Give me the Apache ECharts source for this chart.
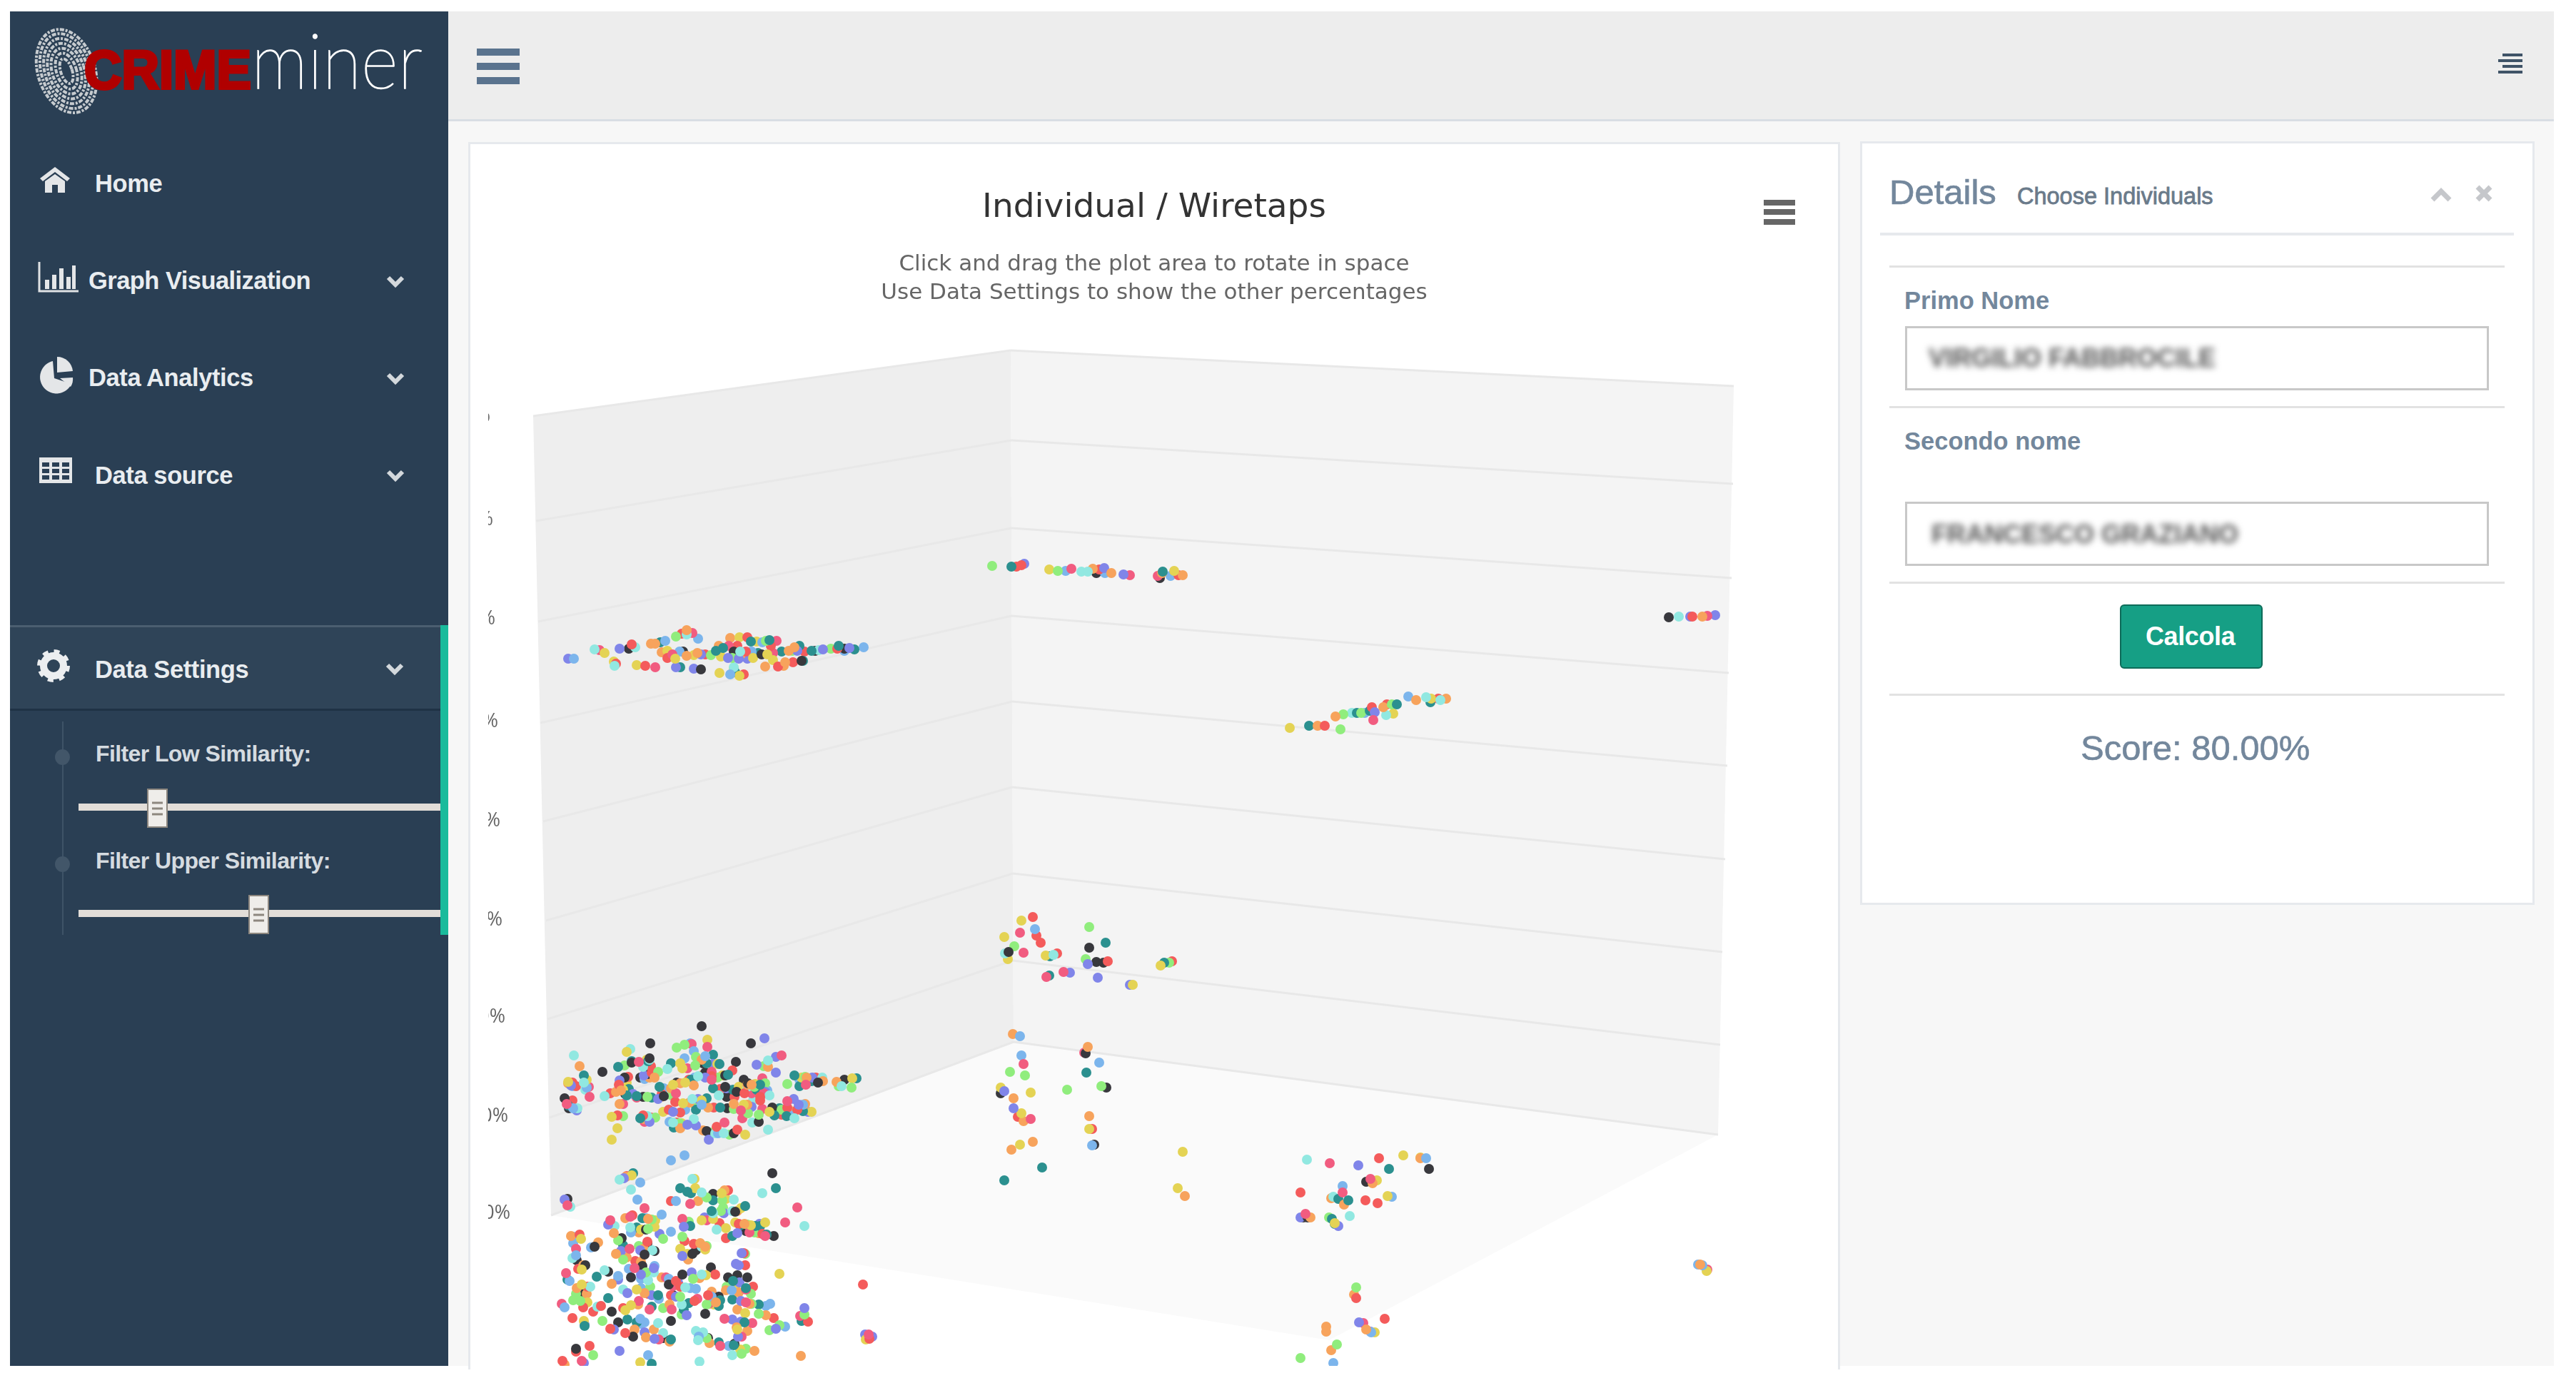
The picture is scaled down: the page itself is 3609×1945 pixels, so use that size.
<!DOCTYPE html>
<html lang="en">
<head>
<meta charset="UTF-8">
<title>CrimeMiner</title>
<script src="https://cdn.jsdelivr.net/npm/echarts@6/dist/echarts.min.js"></script>
<style>
    html, body { margin: 0; padding: 0; background: #fff; width: 3609px; height: 1945px; overflow: hidden; font-family: 'Liberation Sans', Arial, sans-serif; }
    .box { position: absolute; box-sizing: border-box; }
    .t { position: absolute; white-space: nowrap; transform: translateY(-50%); }
    .nav { color: #e9edf0; font-size: 34.5px; font-weight: 700; letter-spacing: -0.4px; }
    .sub { color: #d5dbe0; font-size: 32px; font-weight: 700; letter-spacing: -0.6px; }
    .lab { color: #73879c; font-size: 34.5px; font-weight: 700; }
    .rule { position: absolute; left: 2647px; width: 862px; height: 3px; background: #e2e2e2; }
    .input { position: absolute; left: 2669px; width: 818px; height: 90px; border: 3px solid #c8c8c8; box-sizing: border-box; background: #fff; }
    .blur { color: #555; font-size: 36px; font-weight: 700; filter: blur(5px); }
    svg { position: absolute; left: 0; top: 0; }
    #main { position: absolute; left: 684px; top: 202px; width: 1892px; height: 1712px; }
</style>
</head>
<body>
<!-- page frame -->
<div class="box" style="left:628px;top:16px;width:2950px;height:1898px;background:#f7f7f7"></div>
<div class="box" style="left:628px;top:16px;width:2950px;height:154px;background:#ededed;border-bottom:3px solid #d9dee4"></div>
<div class="box" style="left:14px;top:16px;width:614px;height:1898px;background:#2a3f54"></div>
<div class="box" style="left:14px;top:876px;width:603px;height:120px;background:#2f4458;border-top:3px solid #4b5e70;border-bottom:3px solid #1f3245"></div>
<div class="box" style="left:617px;top:876px;width:11px;height:434px;background:#1abb9c"></div>
<div class="box" style="left:87px;top:1011px;width:2px;height:299px;background:#3e5367"></div>
<div class="box" style="left:77px;top:1050px;width:21px;height:22px;border-radius:50%;background:#425669"></div>
<div class="box" style="left:77px;top:1200px;width:21px;height:22px;border-radius:50%;background:#425669"></div>

<!-- panels -->
<div class="box" style="left:656px;top:199px;width:1922px;height:1720px;background:#fff;border:3px solid #e6e9ed;border-bottom:0"></div>
<div class="box" style="left:2606px;top:198px;width:945px;height:1070px;background:#fff;border:3px solid #e6e9ed"></div>

<!-- sidebar text -->
<div class="t nav" style="left:133px;top:257px">Home</div>
<div class="t nav" style="left:124px;top:393px;letter-spacing:-0.55px">Graph Visualization</div>
<div class="t nav" style="left:124px;top:529px">Data Analytics</div>
<div class="t nav" style="left:133px;top:666px">Data source</div>
<div class="t nav" style="left:133px;top:938px">Data Settings</div>
<div class="t sub" style="left:134px;top:1056px">Filter Low Similarity:</div>
<div class="t sub" style="left:134px;top:1206px">Filter Upper Similarity:</div>

<!-- sliders -->
<div class="box" style="left:110px;top:1126px;width:507px;height:10px;background:#e2ddd8"></div>
<div class="box" style="left:110px;top:1275px;width:507px;height:10px;background:#e2ddd8"></div>
<div class="box" style="left:206px;top:1105px;width:29px;height:55px;background:#efedea;border:2px solid #8d877f"></div>
<div class="box" style="left:348px;top:1254px;width:29px;height:55px;background:#efedea;border:2px solid #8d877f"></div>

<!-- icons and logo -->
<svg width="3609" height="1945">
    <g transform="rotate(-18 95 99)" fill="none" stroke="#c6cbcf" stroke-width="4" stroke-dasharray="6 2 3 2">
        <ellipse cx="93" cy="99" rx="40" ry="60"/><ellipse cx="93" cy="99" rx="35" ry="54"/>
        <ellipse cx="93" cy="99" rx="30" ry="47"/><ellipse cx="93" cy="99" rx="25" ry="40"/>
        <ellipse cx="93" cy="99" rx="20" ry="33"/><ellipse cx="93" cy="99" rx="14" ry="26"/>
        <ellipse cx="93" cy="99" rx="8" ry="18"/>
    </g>
    <text x="118" y="124" font-family="Liberation Sans" font-weight="700" font-size="76" fill="#b00000" stroke="#b00000" stroke-width="4" textLength="234" lengthAdjust="spacingAndGlyphs">CRIME</text>
    <text x="352" y="124" font-family="Lato" font-weight="100" font-size="108" fill="#fff" stroke="#fff" stroke-width="1.6" textLength="240" lengthAdjust="spacingAndGlyphs">miner</text>

    <!-- home -->
    <path d="M56 250 L77 234 L98 250 L94 254 L77 241 L60 254 Z" fill="#e4e6e8"/>
    <path d="M63 254 L77 244 L91 254 V270 H81 V259 H73 V270 H63 Z" fill="#e4e6e8"/>
    <!-- bars -->
    <path d="M55 367 V408 H110" fill="none" stroke="#dfe2e4" stroke-width="3"/>
    <path d="M63 392h6v13h-6zM73 385h6v20h-6zM83 376h6v29h-6zM93 388h6v17h-6zM101 372h5v33h-5z" fill="#e4e6e8"/>
    <!-- pie -->
    <path d="M74 506 A23 23 0 1 0 100 538 L76 530 Z" fill="#e4e6e8"/>
    <path d="M80 500 A22 22 0 0 1 102 520 L80 522 Z" fill="#e4e6e8"/>
    <path d="M84 530 L102 529 A20 20 0 0 1 99 542 Z" fill="#e4e6e8"/>
    <!-- table -->
    <path d="M55 641h46v36h-46z" fill="#e4e6e8"/>
    <path d="M59 648h10v6h-10zM73 648h10v6h-10zM87 648h10v6h-10zM59 657h10v6h-10zM73 657h10v6h-10zM87 657h10v6h-10zM59 666h10v6h-10zM73 666h10v6h-10zM87 666h10v6h-10z" fill="#2a3f54"/>
    <!-- gear -->
    <circle cx="75" cy="933" r="14" fill="none" stroke="#eceef0" stroke-width="10"/>
    <circle cx="75" cy="933" r="20" fill="none" stroke="#eceef0" stroke-width="6" stroke-dasharray="7.8 7.9"/>
    <!-- chevrons -->
    <g fill="none" stroke="#d3d8dc" stroke-width="6">
        <path d="M544 389 L554 399 L564 389"/><path d="M544 525 L554 535 L564 525"/>
        <path d="M544 661 L554 671 L564 661"/><path d="M543 932 L553 942 L563 932"/>
    </g>
    <!-- slider grips -->
    <path d="M213 1125h15M213 1133h15M213 1141h15M355 1274h15M355 1282h15M355 1290h15" stroke="#8d877f" stroke-width="3"/>
    <!-- top bar menus -->
    <path d="M668 73h60M668 93h60M668 113h60" stroke="#5a738e" stroke-width="10"/>
    <path d="M3506 77h28M3500 85h34M3506 93h28M3500 101h34" stroke="#3f5367" stroke-width="4"/>
    <!-- export button -->
    <path d="M2471 284h44M2471 297h44M2471 311h44" stroke="#666" stroke-width="8" stroke-linejoin="round"/>
    <!-- details panel controls -->
    <path d="M3408 280 L3420 268 L3432 280" fill="none" stroke="#c5c7cb" stroke-width="7"/>
    <path d="M3471 262 L3489 280 M3489 262 L3471 280" fill="none" stroke="#c5c7cb" stroke-width="7"/>
</svg>

<!-- details panel -->
<div class="t" style="left:2647px;top:269px;font-size:49px;color:#73879c;-webkit-text-stroke:0.7px #73879c">Details</div>
<div class="t" style="left:2826px;top:275px;font-size:32.5px;color:#6a7a8a;font-weight:400;-webkit-text-stroke:0.8px #6a7a8a">Choose Individuals</div>
<div class="box" style="left:2634px;top:326px;width:888px;height:4px;background:#e6e9ed"></div>
<div class="rule" style="top:372px"></div>
<div class="t lab" style="left:2668px;top:421px">Primo Nome</div>
<div class="input" style="top:457px"></div>
<div class="t blur" style="left:2702px;top:502px">VIRGILIO FABBROCILE</div>
<div class="rule" style="top:569px"></div>
<div class="t lab" style="left:2668px;top:618px">Secondo nome</div>
<div class="input" style="top:703px"></div>
<div class="t blur" style="left:2706px;top:749px">FRANCESCO GRAZIANO</div>
<div class="rule" style="top:815px"></div>
<div class="box" style="left:2970px;top:847px;width:200px;height:90px;background:#169f85;border:2px solid #0e6b59;border-radius:6px"></div>
<div class="t" style="left:3006px;top:892px;font-size:36px;font-weight:700;color:#fff;letter-spacing:-0.4px">Calcola</div>
<div class="rule" style="top:972px"></div>
<div class="t" style="left:2915px;top:1048px;font-size:49px;color:#73879c;-webkit-text-stroke:0.6px #73879c">Score: 80.00%</div>

<div id="main"></div>

<script>
    // chart box in picture units
    const xRange = [684, 2576];
    const yRange = [202, 1914];

    const titleText = 'Individual / Wiretaps';
    const subtitleLines = ['Click and drag the plot area to rotate in space', 'Use Data Settings to show the other percentages'];
    const tickLabels = ['100%', '90%', '80%', '70%', '60%', '50%', '40%', '30%', '20%'];

    // box edges as seen on the picture, one entry per tick
    const leftEdge = [[747, 583], [751, 730], [754, 871], [757, 1013], [761, 1151], [765, 1290], [767, 1428], [770, 1566], [772, 1703]];
    const backEdge = [[1416, 491], [1417, 617], [1417, 740], [1417, 863], [1418, 983], [1418, 1103], [1419, 1224], [1419, 1346], [1420, 1460]];
    const rightEdge = [[2429, 541], [2428, 678], [2426, 810], [2422, 943], [2420, 1073], [2417, 1204], [2413, 1334], [2410, 1464], [2407, 1590]];
    const floorFront = [1862, 1878];
    const labelAnchors = [[687, 583], [691, 728], [694, 867], [698, 1011], [701, 1150], [704, 1289], [708, 1425], [712, 1564], [715, 1700]];

    const red = [[1026,1500],[912,1494],[913,1503],[867,1520],[855,1532],[880,1509],[802,1517],[807,1522],[802,1542],[927,1533],[965,1513],[997,1508],[1009,1526],[946,1544],[953,1559],[937,1555],[1000,1552],[1065,1542],[1103,1552],[1117,1555],[1095,1562],[1029,1537],[1043,1532],[1065,1537],[1130,1517],[1143,1510],[865,1563],[901,1563],[912,1566],[948,1573],[1004,1579],[1033,1583],[878,1648],[940,1683],[1020,1668],[886,1703],[1008,1714],[1017,1735],[1035,1715],[1068,1729],[959,1739],[972,1743],[812,1730],[907,1740],[890,1767],[810,1778],[947,1795],[953,1803],[1002,1786],[1044,1773],[1042,1756],[1209,1800],[908,1813],[823,1803],[817,1832],[842,1830],[831,1838],[802,1847],[855,1862],[876,1868],[873,1833],[940,1815],[973,1823],[992,1815],[1055,1803],[1084,1847],[1132,1852],[1218,1876],[826,1886],[807,1894],[788,1907],[885,903],[955,888],[863,930],[904,933],[935,922],[988,917],[1033,905],[1045,913],[1080,905],[1127,913],[1047,893],[1173,909],[1090,934],[1111,928],[1042,945],[1424,794],[1431,792],[1540,798],[1651,806],[1856,1017],[1922,991],[1943,987],[2015,979],[2371,864],[1447,1285],[1452,1311],[1458,1321],[1481,1336],[1552,1347],[1642,1347],[1426,1565],[1530,1582],[1932,1623],[1822,1671],[1913,1682],[1930,1686],[1900,1819],[1940,1848]];
    const pink = [[969,1463],[991,1467],[1095,1479],[895,1488],[963,1497],[825,1523],[826,1537],[794,1547],[892,1538],[947,1532],[997,1502],[997,1513],[1068,1511],[1053,1532],[1070,1532],[1038,1556],[1068,1554],[1040,1567],[1103,1543],[1129,1520],[873,1547],[903,1572],[1015,1573],[795,1689],[967,1687],[903,1693],[855,1710],[883,1705],[956,1708],[990,1710],[1050,1727],[1072,1732],[882,1750],[807,1750],[889,1777],[793,1784],[933,1790],[943,1802],[1117,1692],[1100,1713],[787,1827],[895,1823],[910,1835],[941,1835],[977,1820],[993,1827],[1045,1807],[1045,1825],[1015,1848],[1054,1854],[1121,1844],[1217,1870],[1039,1873],[923,1877],[1009,1886],[815,1907],[840,911],[970,887],[918,935],[942,917],[1088,898],[1021,905],[1083,915],[1501,797],[1583,806],[1622,807],[2392,863],[1924,1009],[2392,1779],[1429,1307],[1434,1335],[1466,1369],[1490,1362],[1519,1475],[1434,1491],[1444,1568],[1863,1630],[1881,1671],[1829,1701],[1920,1652],[1910,1854]];
    const blue = [[967,1462],[972,1473],[959,1483],[988,1480],[903,1512],[802,1522],[822,1524],[803,1553],[930,1525],[973,1510],[960,1555],[983,1548],[1063,1530],[1075,1528],[1107,1563],[1125,1548],[1120,1513],[938,1572],[1006,1588],[959,1619],[940,1626],[897,1657],[893,1681],[947,1683],[905,1707],[927,1702],[884,1727],[940,1726],[803,1733],[803,1742],[828,1748],[807,1759],[881,1778],[917,1774],[798,1795],[866,1788],[898,1792],[937,1792],[967,1805],[975,1806],[898,1805],[923,1820],[791,1832],[897,1848],[903,1853],[898,1855],[997,1817],[1025,1808],[1073,1830],[1079,1827],[1100,1859],[979,1873],[1021,1886],[908,1899],[804,923],[932,898],[978,895],[952,913],[1053,913],[1068,900],[1183,912],[1210,907],[1023,945],[1493,800],[1548,803],[1640,807],[1912,999],[1973,976],[2379,1772],[2385,1773],[1450,1302],[1429,1452],[1431,1479],[1540,1489],[1530,1605],[1998,1623],[1881,1662],[1950,1677],[1868,1910],[1921,1867]];
    const green = [[948,1468],[959,1464],[975,1481],[974,1493],[875,1493],[1070,1494],[922,1502],[907,1537],[941,1535],[1005,1510],[1072,1518],[1057,1523],[974,1548],[1028,1554],[1048,1560],[1063,1562],[1103,1519],[1095,1555],[1128,1509],[1193,1524],[1175,1522],[873,1564],[918,1566],[952,1574],[998,1587],[1022,1590],[990,1678],[1012,1682],[1013,1692],[1010,1697],[913,1709],[908,1722],[1047,1716],[1057,1727],[929,1736],[956,1733],[965,1712],[990,1746],[866,1738],[873,1765],[895,1746],[1044,1757],[905,1783],[971,1792],[911,1803],[807,1813],[803,1822],[813,1823],[1018,1803],[1052,1813],[1053,1827],[953,1817],[929,1833],[955,1842],[990,1828],[1063,1841],[844,1851],[1078,1864],[1092,1857],[1127,1842],[1045,1890],[1039,1897],[990,1875],[831,1899],[947,892],[996,918],[1026,922],[1073,898],[1110,912],[1164,909],[1390,793],[1482,800],[1878,1022],[1882,1001],[1907,999],[1950,987],[1421,1326],[1526,1299],[1521,1344],[1638,1349],[1415,1502],[1436,1507],[1495,1527],[1543,1522],[1862,1706],[1900,1804],[1873,1884],[1822,1903]];
    const orange = [[812,1494],[1076,1495],[983,1485],[917,1510],[910,1510],[796,1518],[863,1530],[870,1528],[927,1537],[940,1525],[953,1518],[972,1521],[983,1507],[1037,1527],[1047,1520],[1053,1520],[1108,1557],[1128,1547],[1153,1515],[1130,1510],[1172,1516],[868,1547],[902,1568],[966,1545],[992,1552],[1028,1547],[1047,1548],[953,1581],[985,1584],[876,1707],[908,1708],[860,1728],[895,1727],[800,1732],[838,1741],[863,1757],[878,1762],[902,1750],[981,1742],[988,1747],[964,1765],[898,1768],[817,1773],[857,1799],[927,1790],[980,1791],[903,1812],[808,1805],[822,1813],[894,1828],[938,1828],[1003,1825],[997,1810],[1017,1808],[1035,1811],[1050,1827],[978,1683],[1033,1697],[1015,1668],[1043,1715],[1063,1728],[1033,1835],[1073,1843],[1032,1860],[1047,1865],[889,1863],[916,1863],[905,1874],[938,1880],[994,1882],[1057,1893],[1122,1900],[791,1912],[877,1649],[912,902],[918,902],[927,914],[962,919],[977,915],[962,883],[1007,905],[1038,917],[1105,912],[1113,907],[1023,894],[1072,934],[1098,933],[1100,928],[1531,797],[1557,803],[1628,803],[1657,806],[1846,1017],[1871,1004],[1938,991],[1984,981],[2026,979],[2382,1772],[1419,1449],[1524,1467],[1420,1539],[1434,1571],[1526,1564],[1447,1600],[1417,1611],[1660,1676],[1990,1623],[1923,1658],[1865,1679],[1883,1688],[1836,1706],[2385,864],[1897,1814],[1858,1859],[1858,1866],[1914,1863],[1865,1892]];
    const violet = [[1071,1455],[1087,1481],[1060,1492],[1087,1503],[999,1491],[902,1507],[868,1514],[800,1521],[808,1556],[887,1533],[922,1540],[988,1510],[1018,1525],[1050,1528],[1072,1530],[943,1558],[978,1540],[1053,1551],[1112,1540],[1119,1548],[1132,1558],[1138,1510],[910,1572],[963,1576],[975,1577],[993,1597],[874,1651],[791,1681],[1014,1700],[987,1706],[852,1716],[1033,1728],[1064,1715],[924,1729],[958,1719],[956,1760],[870,1753],[897,1752],[898,1786],[916,1777],[969,1783],[1031,1771],[1035,1773],[1039,1756],[866,1793],[950,1797],[1036,1797],[879,1812],[913,1815],[947,1817],[962,1843],[1038,1823],[819,1856],[860,1863],[903,1867],[917,1876],[1026,1849],[1038,1852],[1087,1862],[1127,1833],[1212,1870],[1222,1873],[1034,1873],[868,1893],[818,1910],[796,923],[868,909],[947,935],[972,937],[982,917],[1020,922],[1035,923],[1047,923],[1117,912],[1153,910],[1190,908],[1547,796],[1574,805],[1435,790],[1926,998],[2368,864],[2403,862],[1407,1529],[1524,1351],[1499,1363],[1538,1370],[1583,1380],[1420,1553],[1903,1633],[1822,1706],[1875,1718],[1904,1853],[1920,1866]];
    const yellow = [[991,1457],[878,1474],[953,1490],[956,1497],[1005,1491],[906,1485],[822,1513],[796,1516],[878,1517],[873,1527],[943,1520],[960,1517],[1012,1507],[1035,1523],[1058,1519],[957,1546],[929,1558],[983,1542],[1042,1548],[1078,1558],[1137,1558],[1123,1510],[1194,1511],[857,1565],[865,1581],[857,1597],[955,1574],[1044,1590],[973,1652],[885,1647],[974,1665],[1011,1672],[1017,1680],[1038,1693],[999,1708],[983,1710],[1017,1721],[1030,1713],[1052,1717],[1072,1713],[918,1710],[917,1719],[898,1723],[814,1736],[953,1750],[963,1757],[988,1751],[815,1779],[989,1787],[1092,1785],[892,1807],[815,1800],[1030,1803],[823,1825],[876,1836],[884,1829],[1000,1828],[818,1851],[1044,1840],[1033,1863],[1037,1891],[1213,1877],[897,1909],[847,915],[860,927],[892,932],[935,912],[946,923],[972,918],[1010,920],[1055,922],[1075,917],[1036,893],[1060,899],[1083,925],[1008,943],[1028,937],[1036,947],[1470,798],[1645,800],[1807,1020],[1952,1000],[2005,979],[1431,1290],[1407,1313],[1412,1344],[1465,1339],[1626,1353],[1402,1524],[1444,1531],[1431,1560],[1526,1582],[1429,1604],[1657,1614],[1650,1665],[1966,1619],[1990,1622],[1929,1654],[1944,1676],[1870,1714],[2391,1781],[1926,1867],[1587,1380]];
    const teal = [[999,1478],[940,1490],[990,1490],[1008,1491],[866,1495],[885,1487],[908,1487],[818,1507],[796,1549],[881,1526],[878,1535],[892,1536],[913,1538],[924,1523],[968,1513],[1020,1506],[999,1525],[1027,1527],[1060,1527],[1065,1520],[975,1555],[990,1539],[1009,1552],[1085,1563],[1092,1553],[1125,1557],[1102,1564],[1113,1507],[1120,1522],[1137,1515],[1200,1511],[897,1567],[944,1580],[887,1644],[953,1665],[963,1670],[968,1672],[999,1682],[1044,1690],[997,1697],[900,1707],[892,1720],[967,1718],[1026,1732],[1037,1717],[1058,1718],[1065,1718],[1074,1730],[873,1745],[795,1793],[836,1789],[1027,1795],[1087,1665],[922,1815],[852,1819],[1045,1805],[1026,1821],[1063,1828],[1009,1822],[1007,1830],[913,1831],[965,1826],[958,1835],[819,1858],[879,1849],[892,1853],[940,1877],[1043,1853],[1123,1851],[1007,1881],[1028,1885],[913,1911],[925,900],[953,935],[1003,912],[1013,908],[1062,915],[1095,913],[1052,899],[1078,897],[1120,905],[1137,912],[1175,905],[1197,910],[1125,926],[1030,942],[1417,794],[1629,801],[1834,1017],[1901,999],[1919,996],[1957,987],[2004,984],[1549,1321],[1471,1340],[1631,1349],[1470,1367],[1522,1503],[1460,1636],[1407,1654],[1946,1638],[1875,1680],[1889,1682],[1866,1708],[1870,1715]];
    const dark = [[983,1438],[1052,1462],[911,1462],[844,1502],[1031,1488],[985,1490],[885,1489],[910,1483],[897,1510],[908,1505],[875,1510],[791,1539],[797,1553],[876,1533],[901,1537],[930,1536],[948,1517],[988,1503],[1016,1507],[1016,1523],[1018,1537],[1042,1513],[1032,1530],[1048,1518],[1019,1553],[1082,1552],[1063,1572],[1146,1517],[1183,1513],[990,1585],[1028,1588],[1082,1644],[795,1680],[999,1673],[1030,1698],[905,1723],[1045,1725],[1084,1732],[871,1735],[833,1747],[907,1742],[917,1753],[903,1758],[970,1757],[975,1752],[808,1766],[900,1774],[820,1773],[852,1782],[884,1790],[937,1800],[956,1786],[996,1776],[1020,1790],[1033,1787],[1047,1790],[814,1813],[943,1815],[1007,1817],[988,1841],[857,1838],[866,1853],[940,1851],[887,1873],[929,1875],[992,1875],[1029,1883],[807,1890],[881,909],[957,913],[1028,913],[1067,917],[1142,912],[1183,909],[982,938],[1123,926],[1536,803],[1625,810],[2338,865],[1413,1334],[1526,1328],[1536,1348],[1546,1349],[1521,1476],[1402,1532],[1550,1524],[1533,1604],[2002,1638],[1914,1656],[1826,1706],[1832,1706]];
    const cyan = [[883,1470],[804,1479],[1076,1486],[935,1498],[987,1488],[901,1495],[910,1485],[818,1517],[820,1527],[809,1553],[847,1536],[978,1508],[1007,1535],[1047,1523],[1078,1535],[970,1540],[1055,1542],[1054,1573],[1076,1583],[1113,1567],[1179,1522],[1152,1510],[907,1564],[943,1573],[972,1568],[1002,1588],[1014,1588],[868,1653],[884,1667],[970,1652],[799,1691],[983,1671],[1028,1681],[1026,1697],[999,1700],[1068,1672],[1127,1718],[861,1718],[1004,1723],[883,1720],[983,1747],[914,1752],[802,1763],[847,1780],[916,1783],[908,1794],[983,1786],[960,1804],[873,1807],[837,1831],[955,1828],[922,1854],[929,1868],[975,1865],[985,1867],[978,1878],[1026,1899],[980,1908],[827,1803],[833,910],[890,907],[861,933],[962,889],[1037,913],[1147,911],[1028,935],[1515,801],[1524,801],[1894,999],[1942,1002],[1998,977],[2018,981],[2352,864],[1408,1336],[1476,1338],[1831,1625],[1868,1677],[1891,1704]];

    const pointSeries = [
        ['Serie 9', dark, '#38383d'],
        ['Serie 3', blue, '#7cb5ec'],
        ['Serie 1', red, '#f45b5b'],
        ['Serie 4', green, '#90ed7d'],
        ['Serie 8', teal, '#2b908f'],
        ['Serie 5', orange, '#f7a35c'],
        ['Serie 6', violet, '#8085e9'],
        ['Serie 2', pink, '#f15c80'],
        ['Serie 7', yellow, '#e4d354'],
        ['Serie 10', cyan, '#91e8e1']
    ];

    // the original sorts marks by depth, so colours overlap in no fixed order.
    // drawing each colour in a few passes gives the same mixed look
    const drawPasses = 4;

    const last = leftEdge.length - 1;

    function polygonSeries(corners, color) {
        return {
            type: 'custom',
            silent: true,
            z: 1,
            data: [0],
            renderItem: function (params, api) {
                return {
                    type: 'polygon',
                    shape: {points: corners.map(c => api.coord(c))},
                    style: {fill: color}
                };
            }
        };
    }

    // lines going into the back corner on both walls
    function wallLines(edge, color) {
        return {
            type: 'custom',
            silent: true,
            z: 2,
            data: edge.map((p, i) => i),
            renderItem: function (params, api) {
                const i = api.value(0);
                const a = api.coord(edge[i]);
                const b = api.coord(backEdge[i]);
                return {
                    type: 'line',
                    shape: {x1: a[0], y1: a[1], x2: b[0], y2: b[1]},
                    style: {stroke: color, lineWidth: 3}
                };
            }
        };
    }

    const scatterSeries = [];
    for (let pass = 0; pass < drawPasses; pass++) {
        pointSeries.forEach(function (s) {
            scatterSeries.push({
                name: s[0],
                type: 'scatter',
                data: s[1].filter((p, i) => i % drawPasses === pass),
                z: 5,
                symbolSize: 14,
                itemStyle: {color: s[2], opacity: 1},
                silent: true
            });
        });
    }

    const chart = echarts.init(document.getElementById('main'));
    chart.setOption({
        animation: false,
        title: {
            text: titleText,
            subtext: subtitleLines.join('\n'),
            left: 928,
            top: 61,
            textAlign: 'center',
            itemGap: 36,
            textStyle: {fontFamily: 'DejaVu Sans', fontSize: 47, fontWeight: 'normal', color: '#333'},
            subtextStyle: {fontFamily: 'DejaVu Sans', fontSize: 31, color: '#666', lineHeight: 40}
        },
        grid: {left: 0, right: 0, top: 0, bottom: 0},
        xAxis: {type: 'value', min: xRange[0], max: xRange[1], show: false},
        yAxis: {type: 'value', min: yRange[0], max: yRange[1], inverse: true, show: false},
        series: [
            polygonSeries([leftEdge[last], backEdge[last], rightEdge[last], floorFront], '#fafafa'),
            polygonSeries([leftEdge[0], backEdge[0], backEdge[last], leftEdge[last]], '#eeeeee'),
            polygonSeries([backEdge[0], rightEdge[0], rightEdge[last], backEdge[last]], '#f4f4f4'),
            wallLines(leftEdge, '#e8e8e8'),
            wallLines(rightEdge, '#e8e8e8'),
            {
                type: 'custom',
                silent: true,
                z: 3,
                data: tickLabels.map((s, i) => i),
                renderItem: function (params, api) {
                    const i = api.value(0);
                    const p = api.coord(labelAnchors[i]);
                    return {
                        type: 'text',
                        x: p[0],
                        y: p[1],
                        style: {text: tickLabels[i], align: 'right', verticalAlign: 'middle', fontFamily: 'Open Sans', fontSize: 27, fill: '#666'}
                    };
                }
            }
        ].concat(scatterSeries)
    });
</script>
</body>
</html>
